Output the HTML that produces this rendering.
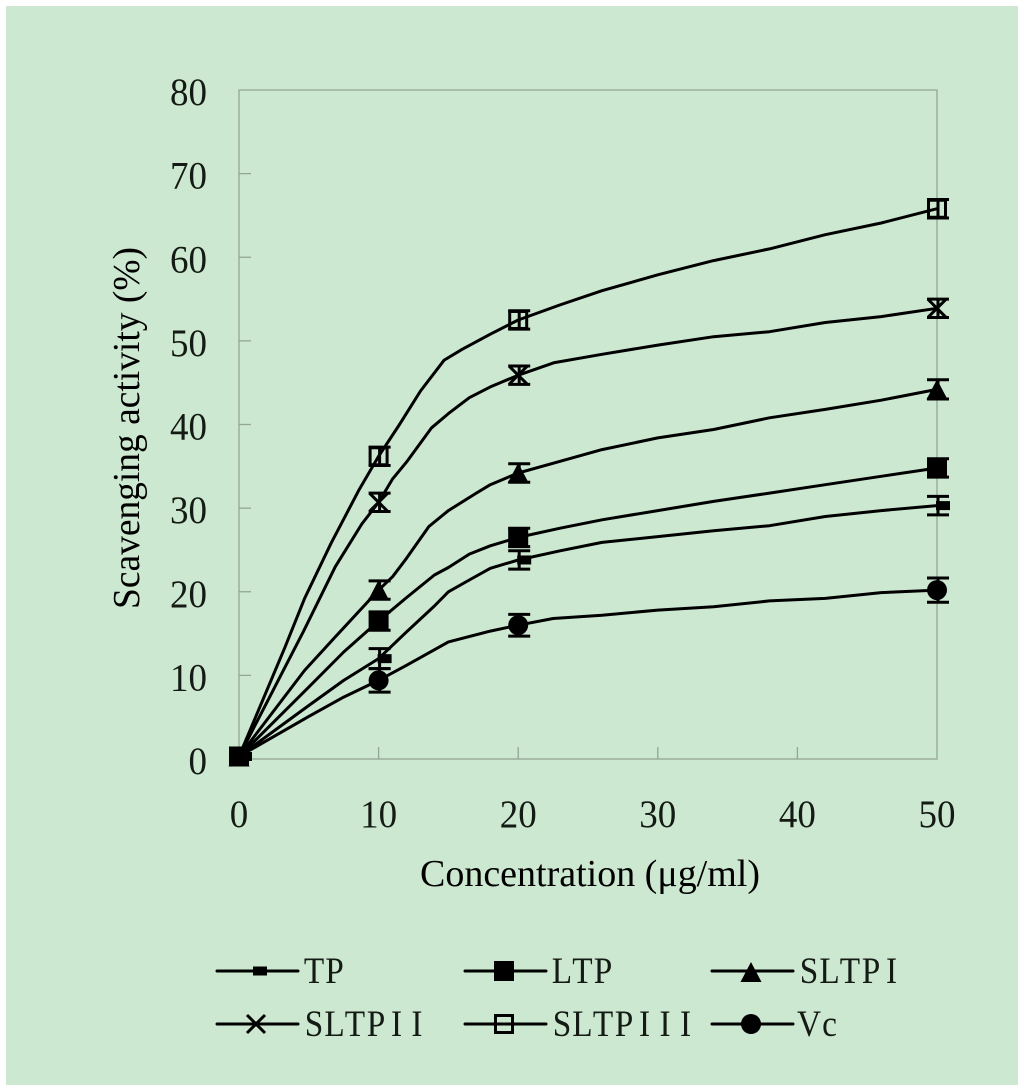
<!DOCTYPE html>
<html lang="en">
<head>
<meta charset="utf-8">
<title>Scavenging activity chart</title>
<style>
html,body{margin:0;padding:0;background:#fff;width:1024px;height:1091px;overflow:hidden}
svg{display:block}
text{font-family:"Liberation Serif","Noto Serif CJK SC",serif;fill:#141a14}
</style>
</head>
<body>
<svg id="chart" xmlns="http://www.w3.org/2000/svg" width="1024" height="1091" viewBox="0 0 1024 1091">
  <rect x="6" y="6" width="1012" height="1079" fill="#cde8d1"/>
  <rect x="239" y="90" width="698" height="669" fill="none" stroke="#93a595" stroke-width="1.3"/>
  <g id="ticks"></g>
  <g id="series"></g>
  <text x="420" y="886" font-size="38" style="fill:#000" textLength="340" lengthAdjust="spacingAndGlyphs">Concentration (μg/ml)</text>
  <text transform="translate(139 609) rotate(-90)" font-size="38" style="fill:#000" textLength="362" lengthAdjust="spacingAndGlyphs">Scavenging activity (%)</text>
  <g id="legend"></g>
</svg>
<script>
const xTickLabels = ['0', '10', '20', '30', '40', '50'];
const yTickLabels = ['0', '10', '20', '30', '40', '50', '60', '70', '80'];
const markerX = [0, 10, 20, 50];

const tpX = [0, 5, 7.5, 10, 12, 14, 15, 16.5, 18, 20, 23, 26, 30, 34, 38, 42, 46, 50];
const tpY = [0.3, 6.4, 9.4, 12, 15.2, 18.3, 20, 21.4, 22.8, 23.8, 24.9, 25.9, 26.6, 27.3, 27.9, 29, 29.7, 30.3];
const tpErr = [0.3, 1.2, 1.1, 1.1];

const ltpX = [0, 5, 7.5, 10, 12, 14, 15, 16.5, 18, 20, 23, 26, 30, 34, 38, 42, 46, 50];
const ltpY = [0.3, 8.6, 12.8, 16.5, 19.3, 22, 22.9, 24.5, 25.5, 26.5, 27.6, 28.6, 29.7, 30.8, 31.8, 32.8, 33.8, 34.8];
const ltpErr = [0.3, 1.1, 1.1, 1.1];

const sltp1X = [0, 4.7, 6.9, 10, 11, 12, 13.6, 15, 17, 18, 20, 23, 26, 30, 34, 38, 42, 46, 50];
const sltp1Y = [0.3, 10.6, 14.6, 20.2, 21.8, 24, 27.8, 29.7, 31.8, 32.8, 34.2, 35.6, 37, 38.4, 39.4, 40.8, 41.8, 42.9, 44.2];
const sltp1Err = [0.3, 1.1, 1.1, 1.15];

const sltp2X = [0, 4.6, 6.9, 8.8, 10, 11, 12, 13.8, 15, 16.5, 18, 20, 22.6, 26, 30, 34, 38, 42, 46, 50];
const sltp2Y = [0.3, 15.2, 23, 28.1, 30.7, 33.5, 35.5, 39.6, 41.3, 43.2, 44.5, 45.9, 47.4, 48.4, 49.5, 50.5, 51.1, 52.2, 52.9, 53.9];
const sltp2Err = [0.3, 1.1, 1.1, 1.1];

const sltp3X = [0, 3.3, 4.7, 6.6, 8.6, 10, 11.5, 13, 14.7, 16, 18, 20, 23, 26, 30, 34, 38, 42, 46, 50];
const sltp3Y = [0.3, 13.4, 19.2, 25.8, 32.2, 36.2, 40, 44, 47.7, 49, 50.8, 52.5, 54.3, 56, 57.9, 59.6, 61, 62.7, 64.1, 65.8];
const sltp3Err = [0.3, 1.1, 1.1, 1.1];

const vcX = [0, 5, 7.5, 10, 12, 15, 18, 20, 22.5, 26, 30, 34, 38, 42, 46, 50];
const vcY = [0.3, 5.1, 7.4, 9.4, 11.2, 14, 15.3, 16, 16.8, 17.2, 17.8, 18.2, 18.9, 19.2, 19.9, 20.2];
const vcErr = [0.3, 1.4, 1.3, 1.45];

const NS = 'http://www.w3.org/2000/svg';
const xScale = v => 239 + v * (698 / 50);
const yScale = v => 759 - v * (669 / 80);

function make(tag, attrs, parent) {
  const el = document.createElementNS(NS, tag);
  for (const k in attrs) el.setAttribute(k, attrs[k]);
  parent.appendChild(el);
  return el;
}

function lerp(xs, ys, x) {
  for (let i = 1; i < xs.length; i++) {
    if (x <= xs[i]) {
      const t = (x - xs[i - 1]) / (xs[i] - xs[i - 1]);
      return ys[i - 1] + t * (ys[i] - ys[i - 1]);
    }
  }
  return ys[ys.length - 1];
}

function drawMarker(kind, cx, cy, parent, isPlot) {
  let m;
  if (kind === 'bar') {
    m = make('rect', { x: cx - (isPlot ? 1 : 3), y: cy - 4.5, width: 14, height: 9, fill: '#000' }, parent);
  } else if (kind === 'square') {
    m = make('rect', { x: cx - 10, y: cy - 10, width: 20, height: 20, fill: '#000' }, parent);
  } else if (kind === 'triangle') {
    m = make('polygon', { points: (cx) + ',' + (cy - 10) + ' ' + (cx + 10.5) + ',' + (cy + 10) + ' ' + (cx - 10.5) + ',' + (cy + 10), fill: '#000', 'stroke-linejoin': 'round' }, parent);
  } else if (kind === 'cross') {
    m = make('path', { d: 'M' + (cx - 9) + ' ' + (cy - 9) + 'L' + (cx + 9) + ' ' + (cy + 9) + 'M' + (cx + 9) + ' ' + (cy - 9) + 'L' + (cx - 9) + ' ' + (cy + 9), fill: 'none', stroke: '#000', 'stroke-width': 3 }, parent);
  } else if (kind === 'open') {
    m = make('rect', { x: cx - 8.5, y: cy - 8.5, width: 17, height: 17, fill: 'none', stroke: '#000', 'stroke-width': 3 }, parent);
  } else {
    m = make('circle', { cx: cx, cy: cy, r: 10, fill: '#000' }, parent);
  }
  return m;
}

const ticksLayer = document.getElementById('ticks');
yTickLabels.forEach(label => {
  const v = Number(label);
  const y = yScale(v);
  if (v > 0 && v < 80) {
    const t = make('line', { x1: 239, x2: 251, y1: y, y2: y, stroke: '#93a595', 'stroke-width': 1.3 }, ticksLayer);
    
    
  }
  const w = label.length * 18.5;
  const txt = make('text', { x: 207 - w, y: y + 15, 'font-size': 39, textLength: w, lengthAdjust: 'spacingAndGlyphs' }, ticksLayer);
  txt.textContent = label;
  
  
});
xTickLabels.forEach(label => {
  const v = Number(label);
  const x = xScale(v);
  if (v > 0 && v < 50) {
    const t = make('line', { x1: x, x2: x, y1: 759, y2: 747, stroke: '#93a595', 'stroke-width': 1.3 }, ticksLayer);
    
    
  }
  const w = label.length * 18.5;
  const txt = make('text', { x: x - w / 2, y: 827, 'font-size': 39, textLength: w, lengthAdjust: 'spacingAndGlyphs' }, ticksLayer);
  txt.textContent = label;
  
  
});

const seriesList = [
  { name: 'tp', xs: tpX, ys: tpY, errs: tpErr, marker: 'bar' },
  { name: 'ltp', xs: ltpX, ys: ltpY, errs: ltpErr, marker: 'square' },
  { name: 'sltpi', xs: sltp1X, ys: sltp1Y, errs: sltp1Err, marker: 'triangle' },
  { name: 'sltpii', xs: sltp2X, ys: sltp2Y, errs: sltp2Err, marker: 'cross' },
  { name: 'sltpiii', xs: sltp3X, ys: sltp3Y, errs: sltp3Err, marker: 'open' },
  { name: 'vc', xs: vcX, ys: vcY, errs: vcErr, marker: 'circle' }
];

const seriesLayer = document.getElementById('series');
const drawOrder = [5, 0, 2, 3, 4, 1];
drawOrder.forEach(idx => {
  const s = seriesList[idx];
  const g = make('g', {}, seriesLayer);
  
  
  const pts = s.xs.map((x, i) => xScale(x).toFixed(1) + ',' + yScale(s.ys[i]).toFixed(1)).join(' ');
  const line = make('polyline', { points: pts, fill: 'none', stroke: '#000', 'stroke-width': 3, 'stroke-linejoin': 'round', 'stroke-linecap': 'round' }, g);
  
  
  markerX.forEach((mx, i) => {
    const cx = xScale(mx);
    const v = lerp(s.xs, s.ys, mx);
    const cy = yScale(v);
    const top = yScale(v + s.errs[i]);
    const bottom = yScale(v - s.errs[i]);
    const eb = make('path', {
      d: 'M' + (cx - 10) + ' ' + top + 'H' + (cx + 12) + 'M' + (cx - 10) + ' ' + bottom + 'H' + (cx + 12) + 'M' + (cx + 1) + ' ' + top + 'V' + bottom,
      fill: 'none', stroke: '#000', 'stroke-width': 3
    }, g);
    
    
    const m = drawMarker(s.marker, cx, cy, g, true);
    
    
  });
});

const legendLabels = ['TP', 'LTP', 'SLTPI', 'SLTPII', 'SLTPIII', 'Vc'];
const legendKinds = ['bar', 'square', 'triangle', 'cross', 'open', 'circle'];
const legendColumns = [217, 465, 712];
const legendRows = [971, 1024];
const legendLayer = document.getElementById('legend');
const glyphScale = 0.9;
legendLabels.forEach((label, i) => {
  const lx = legendColumns[i % 3];
  const ly = legendRows[Math.floor(i / 3)];
  const g = make('g', {}, legendLayer);
  
  
  const key = make('line', { x1: lx, x2: lx + 81, y1: ly, y2: ly, stroke: '#000', 'stroke-width': 3, 'stroke-linecap': 'round' }, g);
  
  
  const m = drawMarker(legendKinds[i], lx + 39, ly + (legendKinds[i] === 'triangle' ? 1 : 0), g, false);
  
  
  const xs = [];
  for (let c = 0; c < label.length; c++) {
    const gap = c * 20.5 + (c >= 3 ? 0.5 : 0);
    xs.push(((lx + 97 + gap) / glyphScale).toFixed(1));
  }
  const t = make('text', { x: xs.join(' '), y: ly + 12, 'font-size': 37, 'text-anchor': 'middle', transform: 'scale(' + glyphScale + ' 1)' }, g);
  t.textContent = label;
  
  
});
</script>
</body>
</html>
